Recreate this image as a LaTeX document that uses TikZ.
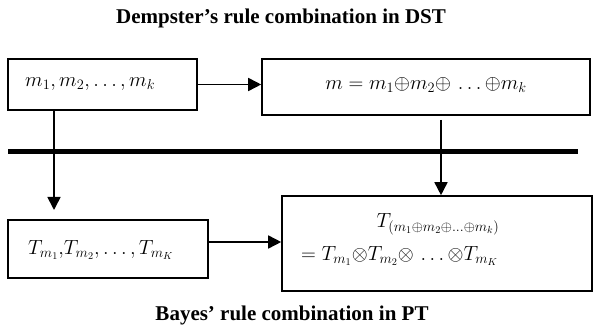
\RequirePackage{fix-cm}
\documentclass[tikz,border=0pt]{standalone}
\usepackage{fontspec}
\setmainfont{Liberation Serif}
\usetikzlibrary{arrows.meta}
\tikzset{
  box/.style={draw, line width=1.6pt, rectangle, inner sep=0pt},
  formula/.style={inner sep=0pt, font=\fontsize{20.5}{25}\selectfont},
  heading/.style={inner sep=0pt, font=\fontsize{21}{25}\selectfont\bfseries},
  link/.style={line width=1.6pt, -{Triangle[length=13pt,width=13pt]}},
  divider/.style={line width=5pt}
}
\begin{document}
\begin{tikzpicture}[x=1pt,y=-1pt]
  \useasboundingbox (0,0) rectangle (593,336);

  % headings
  \node[heading] (dst) at (281,18) {Dempster’s rule combination in DST};
  \node[heading] (pt) at (292,315) {Bayes’ rule combination in PT};

  % boxes
  \node[box, minimum width=189pt, minimum height=51pt] (b1) at (102.5,84.5) {};
  \node[box, minimum width=328pt, minimum height=56pt] (b2) at (426,87) {};
  \node[box, minimum width=200pt, minimum height=58pt] (b3) at (108,249) {};
  \node[box, minimum width=310pt, minimum height=95pt] (b4) at (437,243.5) {};

  % formulas
  \node[formula, anchor=west] (t1) at (25,84) {$m_1, m_2, \ldots, m_k$};
  \node[formula] (t2) at (426,85) {$m = m_1{\oplus}m_2{\oplus}\,\ldots{\oplus}m_k$};
  \node[formula, anchor=west] (t3) at (28,250) {$T_{m_1}{,}T_{m_2}, \ldots, T_{m_K}$};
  \node[formula] (t4) at (438,224) {$T_{(m_1\oplus m_2\oplus\ldots\oplus m_k)}$};
  \node[formula, anchor=west] (t5) at (301,256) {$= T_{m_1}{\otimes}T_{m_2}{\otimes}\,\ldots{\otimes}T_{m_K}$};

  % separating rule
  \coordinate (ruleL) at (8,152);
  \coordinate (ruleR) at (578,152);
  \draw[divider] (ruleL) -- (ruleR);

  % connectors
  \coordinate (downL) at (54,210);
  \coordinate (downR) at (441,120);
  \coordinate (midrow) at (0,242);
  \draw[link] (b1.east) -- (b1.east -| b2.west);
  \draw[link] (downL |- b1.south) -- (downL);
  \draw[link] (downR) -- (downR |- b4.north);
  \draw[link] (b3.east |- midrow) -- (b4.west |- midrow);
\end{tikzpicture}
\end{document}
